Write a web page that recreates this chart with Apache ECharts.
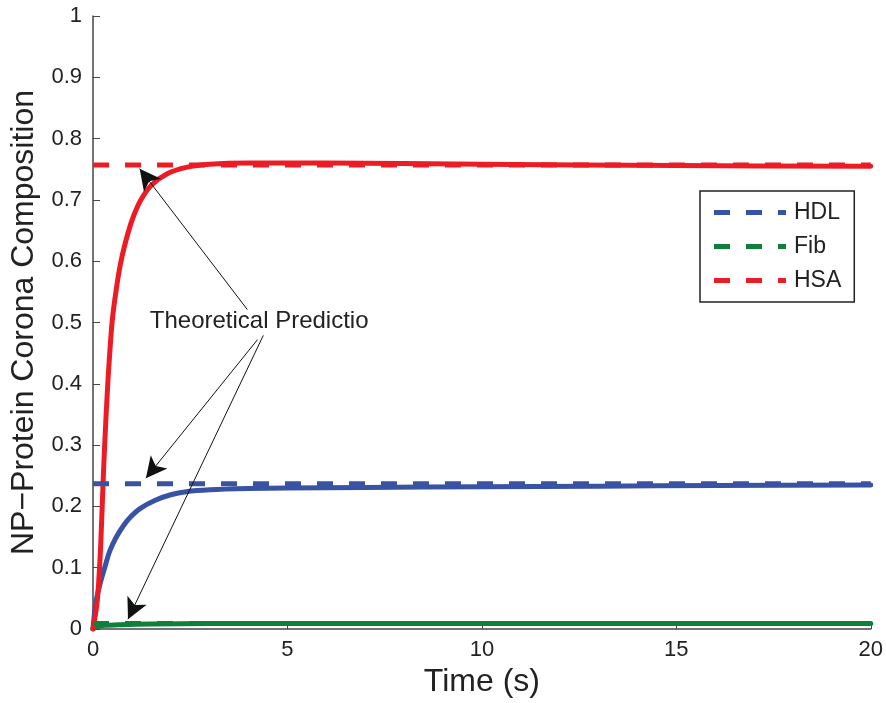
<!DOCTYPE html>
<html>
<head>
<meta charset="utf-8">
<script src="https://cdn.jsdelivr.net/npm/echarts@6/dist/echarts.min.js"></script>
<style>
  html, body { margin: 0; padding: 0; background: #fff; }
  #chart { width: 886px; height: 703px; }
</style>
</head>
<body>
<div id="chart"></div>
<script>
// simulated curves
const hsaTime = [0, 0.1, 0.15, 0.2, 0.26, 0.3, 0.38, 0.49, 0.6, 0.72, 0.9, 1.05, 1.23, 1.5, 1.92, 2.4, 3, 4, 6, 10, 15, 20];
const hsaSim  = [0, 0.04, 0.08, 0.14, 0.24, 0.30, 0.40, 0.50, 0.555, 0.600, 0.646, 0.675, 0.700, 0.724, 0.743, 0.753, 0.758, 0.760, 0.760, 0.758, 0.756, 0.755];

const hdlTime = [0, 0.05, 0.1, 0.2, 0.3, 0.43, 0.6, 0.8, 0.97, 1.2, 1.6, 2.0, 2.4, 3, 4, 5, 7, 10, 13, 16, 20];
const hdlSim  = [0, 0.033, 0.052, 0.078, 0.1, 0.127, 0.150, 0.170, 0.183, 0.196, 0.210, 0.219, 0.224, 0.227, 0.229, 0.230, 0.231, 0.232, 0.233, 0.234, 0.235];

const fibTime = [0, 0.1, 0.3, 0.7, 1.5, 3, 20];
const fibSim  = [0, 0.004, 0.006, 0.007, 0.008, 0.009, 0.009];

// theoretical predictions (dashed)
const predNames = ['HDL', 'Fib', 'HSA'];
const predValues = [0.237, 0.009, 0.757];
const tRange = [0, 20];

const colors = { HDL: '#3953a4', Fib: '#0f7f3c', HSA: '#ed1c24' };

// annotation: text anchor and arrows [from, to] in data coords
const noteText = 'Theoretical Predictio';
const notePos = [1.46, 0.502];
const arrows = [
  [[3.97, 0.521], [1.2, 0.751]],
  [[4.23, 0.472], [1.36, 0.246]],
  [[4.38, 0.479], [0.9, 0.016]]
];

const FONT = 'Liberation Sans, Arial, Helvetica, sans-serif';
// dashed legend swatch, 72 x 5
const dashIcon = 'path://M0,0H16V5H0Z M32,0H48V5H32Z M64,0H72V5H64Z';

function pairs(xs, ys) { return xs.map((x, i) => [x, ys[i]]); }

const simSeries = [
  { name: 'HDL sim', data: pairs(hdlTime, hdlSim), color: colors.HDL },
  { name: 'Fib sim', data: pairs(fibTime, fibSim), color: colors.Fib },
  { name: 'HSA sim', data: pairs(hsaTime, hsaSim), color: colors.HSA }
].map(s => ({
  name: s.name,
  type: 'line',
  data: s.data,
  showSymbol: false,
  symbol: 'none',
  smooth: 0.3,
  silent: true,
  lineStyle: { color: s.color, width: 5, join: 'round', cap: 'round' },
  itemStyle: { color: s.color },
  z: 2
}));

const predSeries = predNames.map((n, i) => ({
  name: n,
  type: 'line',
  data: tRange.map(t => [t, predValues[i]]),
  symbol: 'none',
  silent: true,
  lineStyle: { color: colors[n], width: 5, type: [16, 16] },
  itemStyle: { color: colors[n] },
  z: 3
}));

// arrows live on the last series as mark lines
predSeries[2].markLine = {
  silent: true,
  symbol: ['none', 'arrow'],
  symbolSize: [16, 21],
  label: { show: false },
  lineStyle: { color: '#111', width: 1, type: 'solid' },
  animation: false,
  data: arrows.map(a => [{ coord: a[0] }, { coord: a[1] }])
};

const option = {
  animation: false,
  textStyle: { fontFamily: FONT },
  grid: { left: 93, right: 13, top: 16, bottom: 73 },
  legend: {
    data: predNames.map(n => ({ name: n, icon: dashIcon })),
    orient: 'vertical',
    left: 700,
    top: 191,
    padding: [10, 13, 10, 14],
    itemGap: 11,
    itemWidth: 72,
    itemHeight: 5,
    borderColor: '#222',
    borderWidth: 1.5,
    backgroundColor: '#fff',
    textStyle: { fontSize: 23, color: '#222', fontFamily: FONT, padding: [0, 0, 0, 3] }
  },
  xAxis: {
    type: 'value',
    min: 0, max: 20, interval: 5,
    name: 'Time (s)',
    nameLocation: 'middle',
    nameGap: 37,
    nameTextStyle: { fontSize: 32, color: '#222', fontFamily: FONT },
    axisLine: { lineStyle: { color: '#444', width: 1.5 } },
    axisTick: { inside: true, length: 7, lineStyle: { color: '#444' } },
    axisLabel: { fontSize: 22, color: '#222', margin: 10, fontFamily: FONT },
    splitLine: { show: false }
  },
  yAxis: {
    type: 'value',
    min: 0, max: 1, interval: 0.1,
    name: 'NP\u2212Protein Corona Composition',
    nameLocation: 'middle',
    nameGap: 50,
    nameTextStyle: { fontSize: 32, color: '#222', fontFamily: FONT },
    axisLine: { show: true, lineStyle: { color: '#444', width: 1.5 } },
    axisTick: { show: true, inside: true, length: 7, lineStyle: { color: '#444' } },
    axisLabel: { fontSize: 22, color: '#222', margin: 11, fontFamily: FONT },
    splitLine: { show: false }
  },
  series: simSeries.concat(predSeries)
};

const chart = echarts.init(document.getElementById('chart'), null, { renderer: 'canvas' });
chart.setOption(option);

const p = chart.convertToPixel({ gridIndex: 0 }, notePos);
chart.setOption({
  graphic: [{
    type: 'text',
    x: p[0],
    y: p[1],
    z: 10,
    style: {
      text: noteText,
      fill: '#222',
      font: '24px ' + FONT,
      verticalAlign: 'middle',
      align: 'left'
    }
  }]
});
</script>
</body>
</html>
